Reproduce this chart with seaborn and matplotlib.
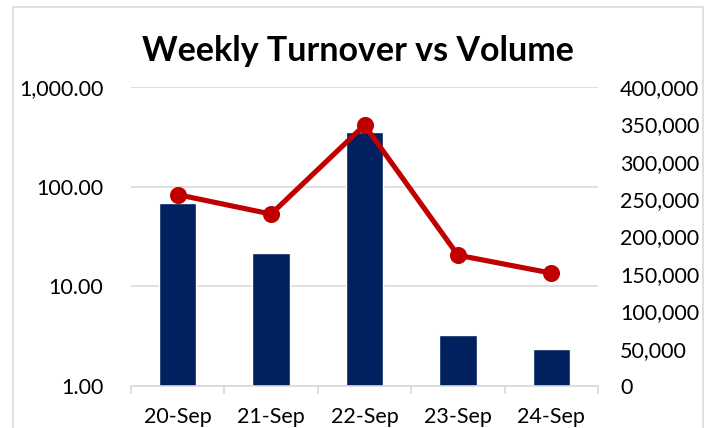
import matplotlib
matplotlib.use("Agg")
import matplotlib.pyplot as plt
import matplotlib.ticker as mticker
from matplotlib.patches import Rectangle
import seaborn as sns

# Data
dates = ["20-Sep", "21-Sep", "22-Sep", "23-Sep", "24-Sep"]
turnover = [69, 21.4, 355, 3.24, 2.34]          # left axis, log scale
volume = [256000, 230000, 349000, 175000, 151000]  # right axis

sns.set_theme(style="white")
plt.rcParams["font.family"] = ["Lato", "DejaVu Sans"]
plt.rcParams["text.color"] = "black"

fig = plt.figure(figsize=(7.15, 4.28), dpi=100)
ax = fig.add_axes([131 / 715, 42 / 428, 467 / 715, 299 / 428])

# chart border
fig.patches.append(Rectangle((13 / 715, -0.1), 690 / 715, (421 / 428) + 0.1,
                             transform=fig.transFigure, fill=False,
                             edgecolor="#d9d9d9", linewidth=1.2))

sns.barplot(x=dates, y=turnover, color="#002060", width=0.4,
            saturation=1, ax=ax)
ax.set_yscale("log")
ax.set_ylim(1, 1000)
ax.set_yticks([1, 10, 100, 1000])
ax.yaxis.set_minor_locator(mticker.NullLocator())
ax.yaxis.set_major_formatter(mticker.FuncFormatter(lambda v, p: f"{v:,.2f}"))
ax.grid(axis="y", color="#d9d9d9", linewidth=1.2)
ax.set_axisbelow(True)
for s in ["left", "right", "top"]:
    ax.spines[s].set_visible(False)
ax.spines["bottom"].set_color("#d9d9d9")
ax.spines["bottom"].set_linewidth(1.2)

ax2 = ax.twinx()
sns.pointplot(x=dates, y=volume, color="#c00000", markers="o",
              linestyles="-", linewidth=3.7, markersize=9.5, ax=ax2)
ax2.set_ylim(0, 400000)
ax2.set_yticks(range(0, 400001, 50000))
ax2.yaxis.set_major_formatter(mticker.FuncFormatter(lambda v, p: f"{v:,.0f}"))
ax2.grid(False)
for s in ["left", "right", "top", "bottom"]:
    ax2.spines[s].set_visible(False)
ax2.set_xlim(-0.5, 4.5)
ax.set_xlim(-0.5, 4.5)

ax.set_xlabel("")
ax.set_ylabel("")
ax2.set_ylabel("")
fs = 15.5
ax.tick_params(axis="y", length=0, labelsize=fs, pad=20, labelcolor="black")
ax2.tick_params(axis="y", length=0, labelsize=fs, pad=16, labelcolor="black")
ax.tick_params(axis="x", which="major", length=0, labelsize=fs, pad=15,
               labelcolor="black")
ax.set_xticks([-0.5, 0.5, 1.5, 2.5, 3.5, 4.5], minor=True)
ax.tick_params(axis="x", which="minor", length=6, width=1.2, color="#d9d9d9",
               direction="out", bottom=True)

fig.text(358 / 715, 1 - 51 / 428, "Weekly Turnover vs Volume", ha="center",
         va="center", fontsize=24.5, fontweight="bold", color="black")

fig.savefig("out.png", dpi=100)
